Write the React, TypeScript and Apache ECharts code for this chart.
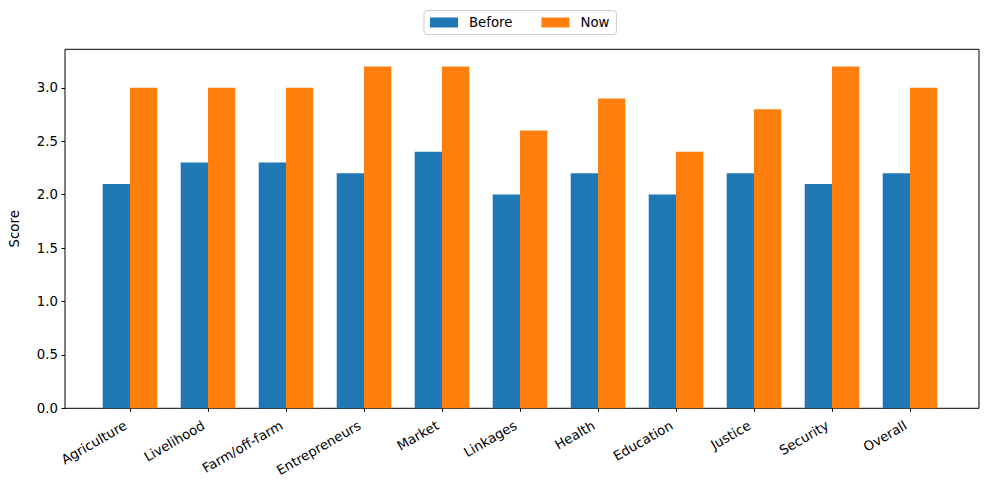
import React, { useEffect, useRef } from "react";
import * as echarts from "echarts";

const categories = [
  "Agriculture",
  "Livelihood",
  "Farm/off-farm",
  "Entrepreneurs",
  "Market",
  "Linkages",
  "Health",
  "Education",
  "Justice",
  "Security",
  "Overall",
];
const beforeValues = [2.1, 2.3, 2.3, 2.2, 2.4, 2.0, 2.2, 2.0, 2.2, 2.1, 2.2];
const nowValues = [3.0, 3.0, 3.0, 3.2, 3.2, 2.6, 2.9, 2.4, 2.8, 3.2, 3.0];
const yTicks = [0, 0.5, 1.0, 1.5, 2.0, 2.5, 3.0];
const seriesNames = ["Before", "Now"];
const colors = ["#1f77b4", "#ff7f0e"];

const FONT = "DejaVu Sans";
const FS = 13.3;

export default function App() {
  const ref = useRef<HTMLDivElement>(null);
  useEffect(() => {
    if (!ref.current) return;
    const chart = echarts.init(ref.current, null, { renderer: "svg" });
    const yMax = 3.36;
    const option: any = {
      animation: false,
      backgroundColor: "#ffffff",
      textStyle: { fontFamily: FONT },
      legend: {
        data: seriesNames,
        top: 10.5,
        left: 424,
        itemWidth: 28,
        itemHeight: 10,
        itemGap: 29,
        icon: "rect",
        borderColor: "#cccccc",
        borderWidth: 1,
        borderRadius: 3,
        padding: [4.5, 7, 4.5, 6],
        textStyle: {
          fontFamily: FONT,
          fontSize: FS,
          color: "#000",
          padding: [0, 0, 0, 6],
          lineHeight: 15,
        },
      },
      grid: [
        {
          left: 61,
          top: 49.3,
          width: 918,
          height: 359,
          show: true,
          borderColor: "#000",
          borderWidth: 1,
          backgroundColor: "transparent",
        },
        { left: 91, top: 49.3, width: 858, height: 359 },
      ],
      xAxis: [
        { type: "value", gridIndex: 0, show: false, min: 0, max: 1 },
        {
          type: "category",
          gridIndex: 1,
          data: categories,
          axisLine: { show: false },
          axisTick: {
            show: true,
            alignWithLabel: true,
            length: 3.5,
            lineStyle: { color: "#000", width: 1 },
          },
          axisLabel: {
            rotate: 30,
            interval: 0,
            margin: 13.5,
            padding: [0, 5, 0, 0],
            fontFamily: FONT,
            fontSize: FS,
            color: "#000",
          },
        },
      ],
      yAxis: [
        {
          type: "value",
          gridIndex: 0,
          min: 0,
          max: yMax,
          interval: 0.5,
          name: "Score",
          nameLocation: "middle",
          nameGap: 44,
          nameRotate: 90,
          nameTextStyle: { fontFamily: FONT, fontSize: FS, color: "#000" },
          splitLine: { show: false },
          axisLine: { show: false },
          axisTick: {
            show: true,
            length: 3.5,
            customValues: yTicks,
            lineStyle: { color: "#000", width: 1 },
          },
          axisLabel: {
            customValues: yTicks,
            margin: 7,
            fontFamily: FONT,
            fontSize: FS,
            color: "#000",
            formatter: (v: number) => v.toFixed(1),
          },
        },
        { type: "value", gridIndex: 1, min: 0, max: yMax, show: false },
      ],
      series: [
        {
          name: seriesNames[0],
          type: "bar",
          xAxisIndex: 1,
          yAxisIndex: 1,
          data: beforeValues,
          barWidth: 27.3,
          barGap: "0%",
          itemStyle: { color: colors[0] },
        },
        {
          name: seriesNames[1],
          type: "bar",
          xAxisIndex: 1,
          yAxisIndex: 1,
          data: nowValues,
          barWidth: 27.3,
          barGap: "0%",
          itemStyle: { color: colors[1] },
        },
      ],
    };
    chart.setOption(option);
    return () => chart.dispose();
  }, []);
  return (
    <div
      ref={ref}
      style={{ position: "fixed", left: 0, top: 0, width: 989, height: 489 }}
    />
  );
}
